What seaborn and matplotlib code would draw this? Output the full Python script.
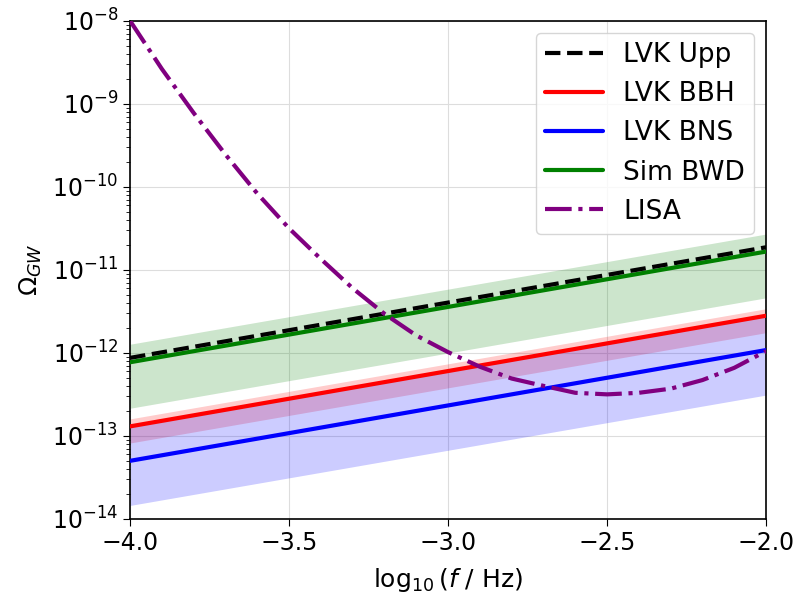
import numpy as np
import pandas as pd
import matplotlib
matplotlib.use("Agg")
import matplotlib.pyplot as plt
import seaborn as sns

# Frequency range (log10 f / Hz) at the two ends of each power-law spectrum
log_f_ends = [-4.0, -2.0]

# Omega_GW power-law spectra at the two ends of the band
lvk_upp = [8.7e-13, 1.87e-11]
lvk_bbh = [1.3e-13, 2.8e-12]
lvk_bbh_lo = [8.2e-14, 1.75e-12]
lvk_bbh_hi = [1.6e-13, 3.4e-12]
lvk_bns = [5.0e-14, 1.08e-12]
lvk_bns_lo = [1.45e-14, 3.1e-13]
lvk_bns_hi = [1.3e-13, 2.8e-12]
sim_bwd = [7.7e-13, 1.66e-11]
sim_bwd_lo = [2.15e-13, 4.6e-12]
sim_bwd_hi = [1.27e-12, 2.7e-11]

# LISA power-law sensitivity curve
lisa_log_f = [-4.0, -3.9, -3.8, -3.7, -3.6, -3.5, -3.4, -3.3, -3.2, -3.1, -3.0,
              -2.9, -2.8, -2.7, -2.6, -2.5, -2.4, -2.3, -2.2, -2.1, -2.0]
lisa_omega = [1.0e-8, 2.63e-9, 7.76e-10, 2.45e-10, 8.3e-11, 3.16e-11, 1.35e-11,
              6.0e-12, 2.95e-12, 1.62e-12, 1.02e-12, 6.8e-13, 4.9e-13, 4.0e-13,
              3.3e-13, 3.16e-13, 3.3e-13, 3.7e-13, 4.7e-13, 6.6e-13, 1.05e-12]

sns.set_style("ticks")
plt.rcParams["font.family"] = ["DejaVu Sans"]
plt.rcParams["text.color"] = "black"
plt.rcParams["axes.labelcolor"] = "black"
plt.rcParams["xtick.color"] = "black"
plt.rcParams["ytick.color"] = "black"

fig = plt.figure(figsize=(7.98, 5.95), dpi=100)
ax = fig.add_axes([0.163, 0.128, 0.797, 0.837])
ax.set_yscale("log")

lw = 3
sns.lineplot(x=log_f_ends, y=lvk_upp, ax=ax, color="black", lw=lw,
             linestyle="--", label="LVK Upp", zorder=5)
sns.lineplot(x=log_f_ends, y=lvk_bbh, ax=ax, color="red", lw=lw,
             label="LVK BBH", zorder=4)
ax.fill_between(log_f_ends, lvk_bbh_lo, lvk_bbh_hi, color="red", alpha=0.2, lw=0)
sns.lineplot(x=log_f_ends, y=lvk_bns, ax=ax, color="blue", lw=lw,
             label="LVK BNS", zorder=4)
ax.fill_between(log_f_ends, lvk_bns_lo, lvk_bns_hi, color="blue", alpha=0.2, lw=0)
sns.lineplot(x=log_f_ends, y=sim_bwd, ax=ax, color="green", lw=lw,
             label="Sim BWD", zorder=4)
ax.fill_between(log_f_ends, sim_bwd_lo, sim_bwd_hi, color="green", alpha=0.2, lw=0)
sns.lineplot(x=lisa_log_f, y=lisa_omega, ax=ax, color="purple", lw=lw,
             linestyle="-.", label="LISA", zorder=6)

ax.set_xlim(-4.0, -2.0)
ax.set_ylim(1e-14, 1e-8)
ax.set_xticks([-4.0, -3.5, -3.0, -2.5, -2.0])
ax.grid(True, which="major", color="#dddddd", lw=0.8)
ax.tick_params(axis="both", which="major", labelsize=17, length=5)
ax.tick_params(axis="y", which="minor", length=3)
for s in ax.spines.values():
    s.set_color("black")
    s.set_linewidth(1.2)

ax.set_xlabel(r"$\log_{10}(f$ / Hz)", fontsize=18, labelpad=8)
ax.set_ylabel(r"$\Omega_{GW}$", fontsize=18, labelpad=6)

ax.legend(loc="upper right", fontsize=19, frameon=True, handlelength=2.2,
          handletextpad=0.75, borderpad=0.35, labelspacing=0.5,
          borderaxespad=0.45)

fig.savefig("out.png", dpi=100)
